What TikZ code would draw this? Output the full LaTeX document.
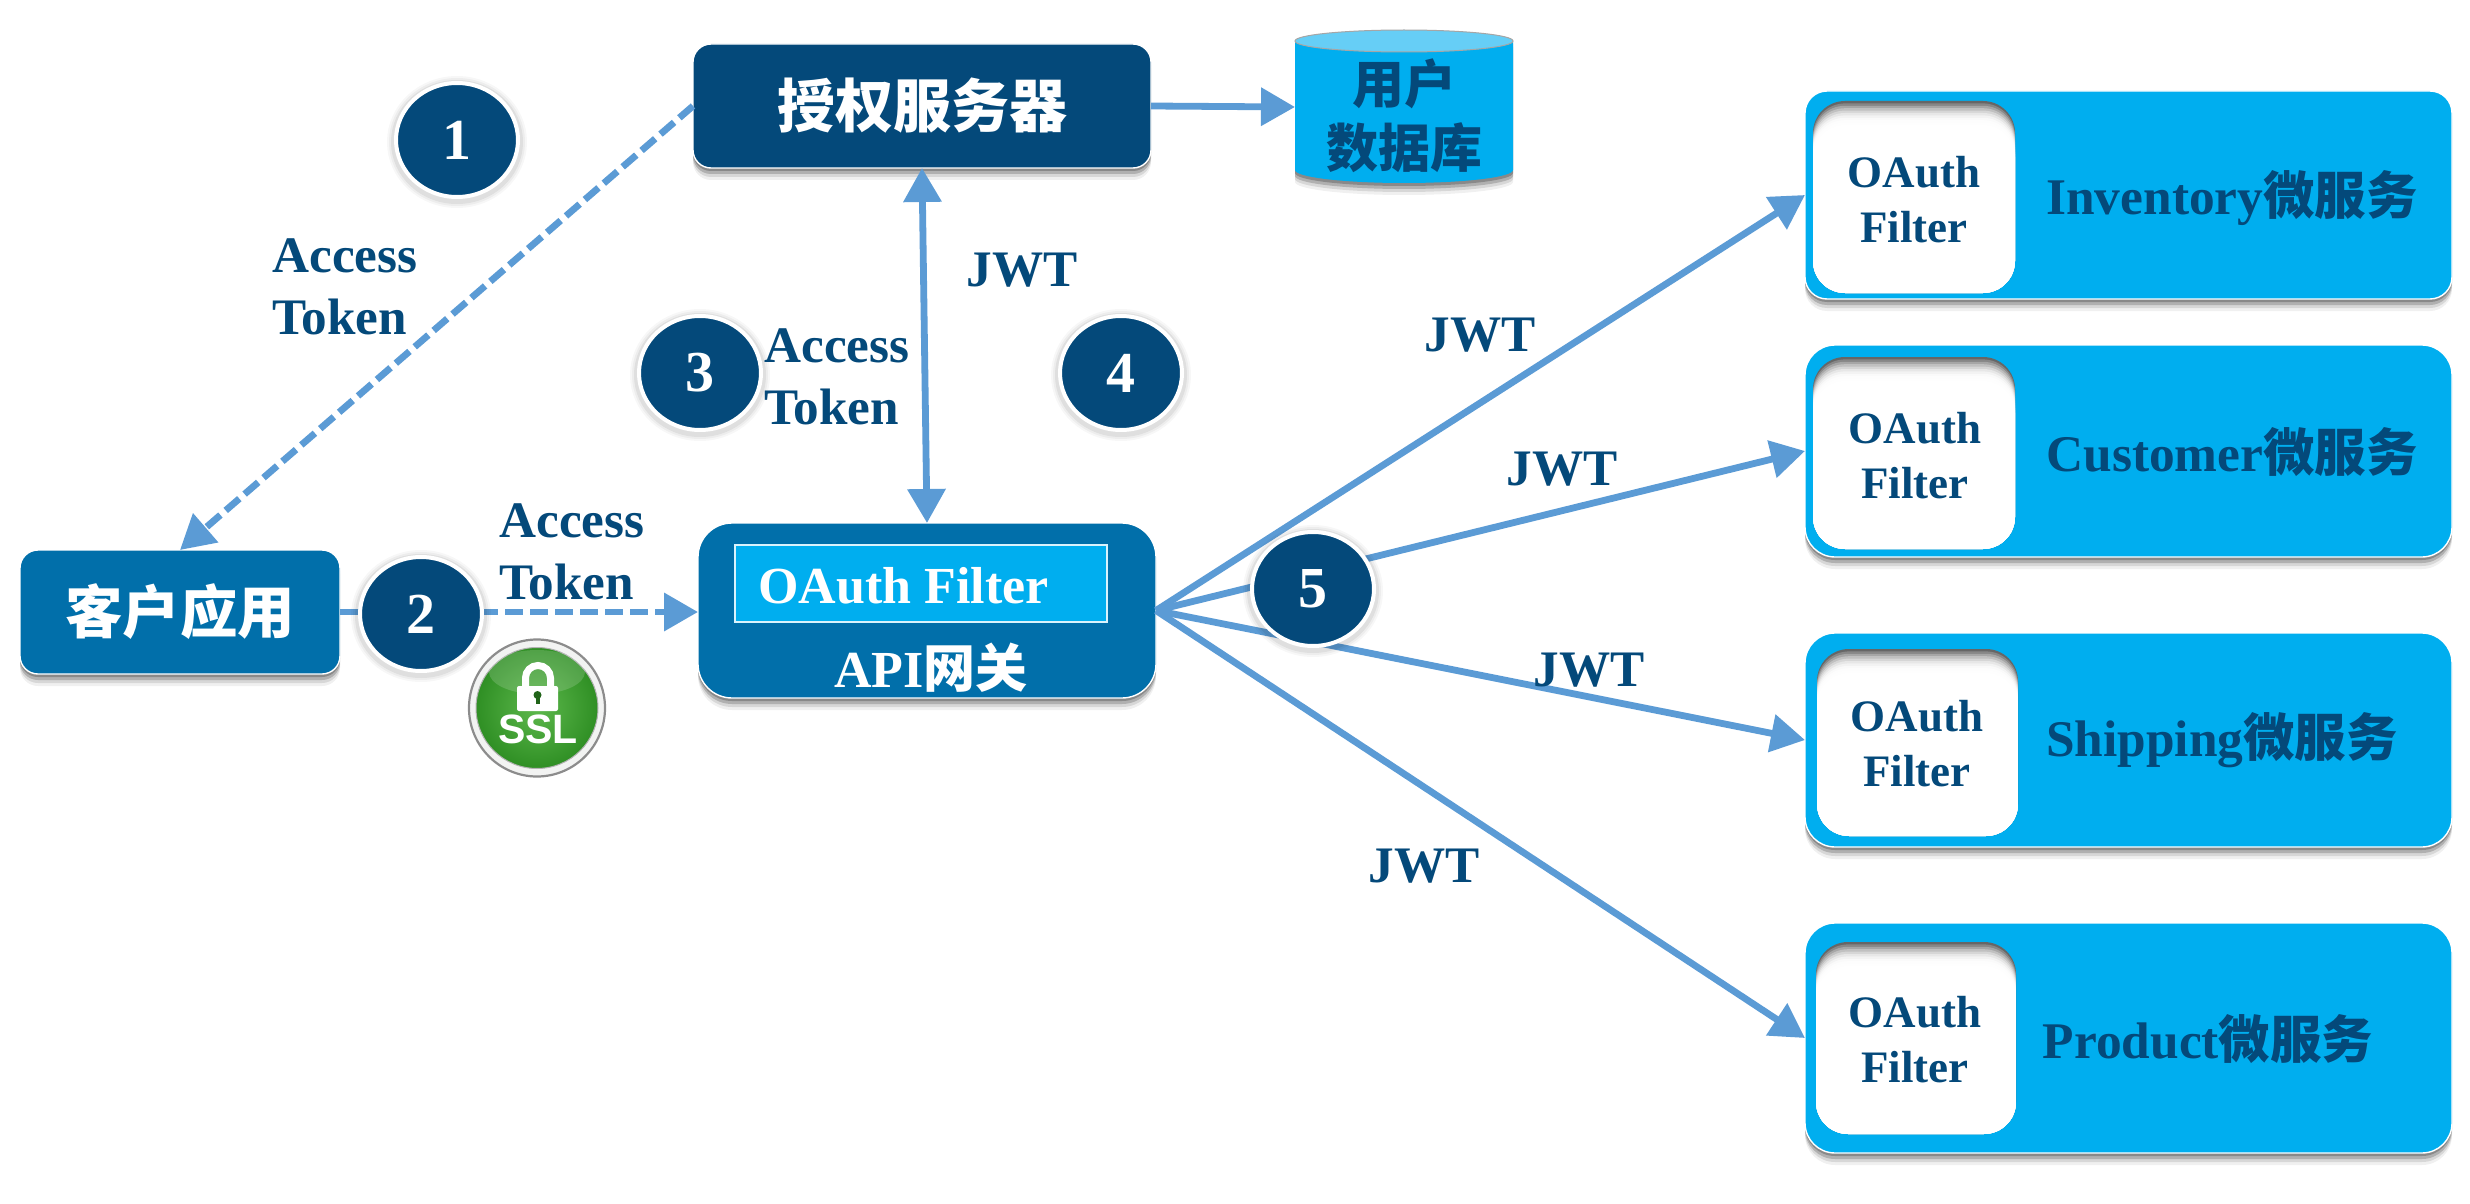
\documentclass[tikz,border=0pt]{standalone}
\usepackage{fontspec}
\setmainfont{Liberation Serif}
\newfontfamily\cjk{Noto Sans CJK SC}
\newfontfamily\ssl{Liberation Sans}
\usetikzlibrary{arrows.meta,shapes.geometric}
\definecolor{navy}{HTML}{04497A}
\definecolor{midblue}{HTML}{016FAA}
\definecolor{cyanbox}{HTML}{00AEEF}
\definecolor{cyantop}{HTML}{66CEF6}
\definecolor{arrowblue}{HTML}{5B9BD5}
\definecolor{ringgray}{HTML}{F2F3F2}
\definecolor{sslgreen}{HTML}{3E9E2E}
\definecolor{ssllight}{HTML}{5DB84C}
\definecolor{ssldark}{HTML}{2F8F24}
\newcommand\fsz[2]{\fontsize{#1}{#2}\selectfont}
\tikzset{
  softshadow/.style={
    preaction={fill=black,fill opacity=.06,draw=none,transform canvas={yshift=-6pt}},
    preaction={fill=black,fill opacity=.10,draw=none,transform canvas={yshift=-4.5pt}},
    preaction={fill=black,fill opacity=.18,draw=none,transform canvas={yshift=-3pt}},
    preaction={fill=black,fill opacity=.22,draw=none,transform canvas={yshift=-1.5pt}}},
  halo/.style={
    preaction={draw=black,draw opacity=.03,line width=9pt,transform canvas={yshift=-1pt}},
    preaction={draw=black,draw opacity=.04,line width=7pt,transform canvas={yshift=-1pt}},
    preaction={draw=black,draw opacity=.06,line width=5pt,transform canvas={yshift=-1pt}}},
  boxbase/.style={rectangle,inner sep=0pt,outer sep=0pt,draw=white,line width=.7pt,softshadow},
  navybox/.style={boxbase,fill=navy,rounded corners=9pt},
  bluebox/.style={boxbase,fill=midblue,rounded corners=#1},
  servicebox/.style={boxbase,fill=cyanbox,rounded corners=#1},
  filterslot/.style={rectangle,inner sep=0pt,outer sep=0pt,fill=black!60,rounded corners=16pt,
    path picture={
      \foreach \s/\o in {1.2/.22,2.4/.26,3.6/.30,4.8/.36,6/.42,7.2/.5,8.4/.6,9.6/.7,10.8/.8,12/1}{
        \fill[white,fill opacity=\o,rounded corners=16pt]
          ([yshift=-\s pt]path picture bounding box.north west) rectangle
          ([yshift=-30pt]path picture bounding box.south east);}}},
  innerrect/.style={rectangle,inner sep=0pt,outer sep=0pt,fill=cyanbox,draw=white!85!cyanbox,line width=.6pt},
  badge/.style={ellipse,inner sep=0pt,outer sep=0pt,fill=navy,draw=white,line width=2pt,
    minimum width=61pt,minimum height=57pt,text=white,font=\bfseries\fsz{29}{29},halo},
  conn/.style={draw=arrowblue,line width=3.4pt,-{Triangle[length=17pt,width=18.5pt]}},
  dconn/.style={conn,dash pattern=on 9pt off 3.5pt},
  biconn/.style={draw=arrowblue,line width=3.4pt,{Triangle[length=17pt,width=18.5pt]}-{Triangle[length=17pt,width=18.5pt]}},
  navytext/.style={text=navy,font=\bfseries\fsz{25.6}{30.7},align=left,inner sep=0pt},
  whitetext/.style={text=white,font=\bfseries\fsz{26}{30},inner sep=0pt},
  filtertext/.style={text=navy,font=\bfseries\fsz{22.5}{27.5},align=center,inner sep=0pt},
  servicetext/.style={text=navy,font=\bfseries\fsz{25.7}{30},inner sep=0pt},
}
\begin{document}
\begin{tikzpicture}[x=.5pt,y=-.5pt]
\useasboundingbox (0,0) rectangle (2470,1204);
\fill[white] (0,0) rectangle (2470,1204);

% boxes
\node[navybox,minimum width=229pt,minimum height=62pt] (auth) at (922,106) {};
\node[bluebox=9pt,minimum width=160pt,minimum height=62pt] (client) at (180,612) {};
\node[bluebox=17pt,minimum width=229pt,minimum height=87.5pt] (api) at (927,610.5) {};
\node[innerrect,minimum width=186pt,minimum height=38.5pt] (filterrect) at (921,583.5) {};

% database
\node[inner sep=0pt,outer sep=0pt,minimum width=109pt,minimum height=76.5pt] (db) at (1404,107) {};
\path[softshadow,fill=cyanbox] (1295,41) -- (1295,170) arc[x radius=109,y radius=13,start angle=180,end angle=0] -- (1513,41) -- cycle;
\draw[fill=cyantop,draw=black!35,line width=.5pt] (1404,41) ellipse[x radius=109,y radius=11];

% service boxes
\node[servicebox=11pt,minimum width=323.5pt,minimum height=104pt] (inv) at (2128.5,195) {};
\node[filterslot,minimum width=101pt,minimum height=96pt] (invslot) at (1914,197) {};
\node[servicebox=15pt,minimum width=323.5pt,minimum height=106pt] (cust) at (2128.5,451) {};
\node[filterslot,minimum width=101pt,minimum height=96pt] (custslot) at (1914,453) {};
\node[servicebox=15pt,minimum width=323.5pt,minimum height=107pt] (ship) at (2128.5,740) {};
\node[filterslot,minimum width=100.5pt,minimum height=93.5pt] (shipslot) at (1917.5,742.5) {};
\node[servicebox=15pt,minimum width=323.5pt,minimum height=115pt] (prod) at (2128.5,1038) {};
\node[filterslot,minimum width=100pt,minimum height=96pt] (prodslot) at (1916,1038) {};

% connectors
\draw[conn] (auth.east) -- (db.west);
\draw[dconn] (auth.west) -- (client.north);
\draw[biconn] (auth.south) -- (api.north);
\draw[draw=arrowblue,line width=3.4pt] (client.east) -- ++(60,0);
\draw[dconn] (client.east) ++(140,0) coordinate (dashstart) -- (dashstart -| api.west);
\draw[conn] (api.east) -- (inv.west);
\draw[conn] (api.east) -- (cust.west);
\draw[conn] (api.east) -- (ship.west);
\draw[conn] (api.east) -- (prod.west);

% numbered badges
\node[badge] (b1) at (457,140) {1};
\node[badge] (b2) at (421,614) {2};
\node[badge] (b3) at (700,373) {3};
\node[badge] (b4) at (1121,373) {4};
\node[badge] (b5) at (1313,589) {5};

% SSL badge
\node[ellipse,inner sep=0pt,outer sep=0pt,minimum width=68pt,minimum height=68.5pt,fill=ringgray,draw=black!45,line width=1.1pt] (sslring) at (537,708) {};
\node[ellipse,inner sep=0pt,outer sep=0pt,minimum width=61pt,minimum height=60.5pt,draw=black!30,line width=.5pt,
  inner color=ssllight,outer color=ssldark] (sslcore) at (537,708) {};
\fill[white,fill opacity=.16] (537,672) ellipse[x radius=48,y radius=22];
\draw[white,line width=3.5pt] (525.5,690) -- (525.5,678) arc[x radius=12.5,y radius=12.5,start angle=180,end angle=360] -- (550.5,690);
\fill[white,rounded corners=1pt] (517,686) rectangle (558,711);
\fill[ssldark!70!black] (537.5,695) circle[radius=4];
\fill[ssldark!70!black] (535.5,695) rectangle (539.5,704);
\node[inner sep=0pt,text=white,font=\ssl\bfseries\fsz{20.5}{21}] (ssltext) at (538,729) {SSL};

% texts
\node[whitetext,font=\cjk\bfseries\fsz{29}{30}] (authlabel) at (922,106) {授权服务器};
\node[whitetext,font=\cjk\bfseries\fsz{28.7}{30}] (clientlabel) at (180,612) {客户应用};
\node[whitetext,anchor=west] (filterlabel) at (758,586) {OAuth Filter};
\node[whitetext] (apilabel) at (931,668) {API{\cjk 网关}};
\node[navytext,align=center,font=\cjk\bfseries\fsz{26}{32}] (dblabel) at (1404,116) {用户\\数据库};

\node[navytext,anchor=west] (tok1) at (272,287) {Access\\Token};
\node[navytext,anchor=west] (tok2) at (764,377) {Access\\Token};
\node[navytext,anchor=west] (tok3) at (499,552) {Access\\Token};

\node[navytext] (jwt1) at (1022,270) {JWT};
\node[navytext] (jwt2) at (1480,335) {JWT};
\node[navytext] (jwt3) at (1562,469) {JWT};
\node[navytext] (jwt4) at (1589,670) {JWT};
\node[navytext] (jwt5) at (1424,866) {JWT};

\node[filtertext] (invf) at (1914,200) {OAuth\\Filter};
\node[filtertext] (custf) at (1915,456) {OAuth\\Filter};
\node[filtertext] (shipf) at (1917,744) {OAuth\\Filter};
\node[filtertext] (prodf) at (1915,1040) {OAuth\\Filter};

\node[servicetext] (invl) at (2232,198) {Inventory{\cjk 微服务}};
\node[servicetext] (custl) at (2232,452) {Customer{\cjk 微服务}};
\node[servicetext] (shipl) at (2222,740) {Shipping{\cjk 微服务}};
\node[servicetext] (prodl) at (2208,1039) {Product{\cjk 微服务}};
\end{tikzpicture}
\end{document}
